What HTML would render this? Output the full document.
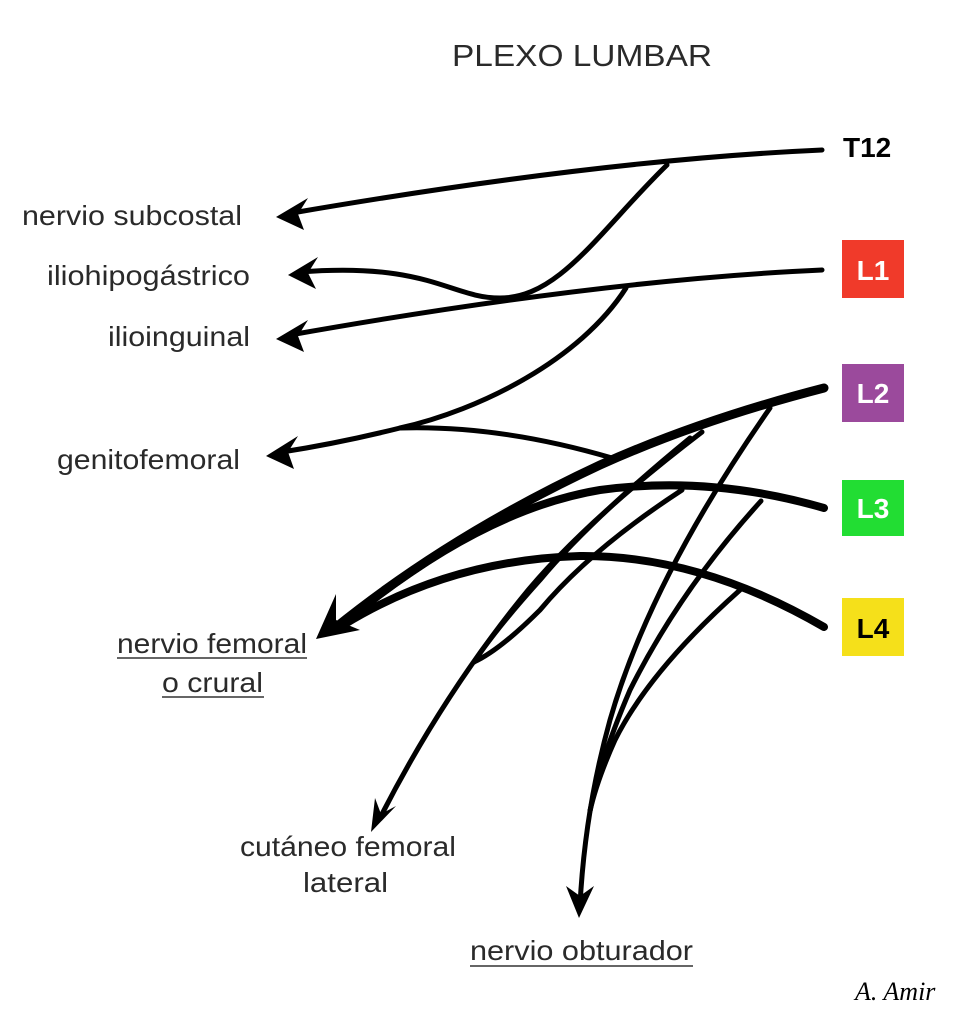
<!DOCTYPE html>
<html><head><meta charset="utf-8"><style>
html,body{margin:0;padding:0;background:#fff;}
svg{display:block;}
text{font-family:"Liberation Sans",sans-serif;fill:#2a2a2a;}
</style></head><body>
<svg width="954" height="1024" viewBox="0 0 954 1024" xmlns="http://www.w3.org/2000/svg">
<text x="452" y="66" font-size="31" textLength="260" lengthAdjust="spacingAndGlyphs">PLEXO LUMBAR</text>

<g font-size="28">
<text x="22" y="225" textLength="220" lengthAdjust="spacingAndGlyphs">nervio subcostal</text>
<text x="47" y="285" textLength="203" lengthAdjust="spacingAndGlyphs">iliohipogástrico</text>
<text x="108" y="346" textLength="142" lengthAdjust="spacingAndGlyphs">ilioinguinal</text>
<text x="57" y="469" textLength="183" lengthAdjust="spacingAndGlyphs">genitofemoral</text>
<text x="117" y="653" textLength="190" lengthAdjust="spacingAndGlyphs">nervio femoral</text>
<text x="162" y="692" textLength="101" lengthAdjust="spacingAndGlyphs">o crural</text>
<text x="240" y="856" textLength="216" lengthAdjust="spacingAndGlyphs">cutáneo femoral</text>
<text x="303" y="892" textLength="85" lengthAdjust="spacingAndGlyphs">lateral</text>
<text x="470" y="960" textLength="223" lengthAdjust="spacingAndGlyphs">nervio obturador</text>
</g>
<line x1="117" y1="658" x2="307" y2="658" stroke="#333" stroke-width="1.5"/>
<line x1="162" y1="697" x2="264" y2="697" stroke="#333" stroke-width="1.5"/>
<line x1="470" y1="966" x2="693" y2="966" stroke="#333" stroke-width="1.5"/>

<text x="843" y="157" font-size="28" font-weight="bold" style="fill:#000">T12</text>
<rect x="842" y="240" width="62" height="58" fill="#f03a2a"/>
<rect x="842" y="364" width="62" height="58" fill="#9b4a9c"/>
<rect x="842" y="480" width="62" height="56" fill="#22dd33"/>
<rect x="842" y="598" width="62" height="58" fill="#f5e01a"/>
<g font-size="28" font-weight="bold" text-anchor="middle">
<text x="873" y="280" style="fill:#fff">L1</text>
<text x="873" y="403" style="fill:#fff">L2</text>
<text x="873" y="518" style="fill:#fff">L3</text>
<text x="873" y="638" style="fill:#000">L4</text>
</g>

<g fill="none" stroke="#000" stroke-linecap="round">
<path d="M822 150 Q600 160 292 213" stroke-width="5"/>
<path d="M667 165 C600 230 560 298 500 298 C450 298 430 262 300 272" stroke-width="5"/>
<path d="M822 270 Q600 280 290 335" stroke-width="5"/>
<path d="M626 288 C580 360 480 410 400 428 Q340 443 282 452" stroke-width="5"/>
<path d="M400 428 Q500 425 612 458" stroke-width="5"/>
<path d="M824 388 Q700 420 600 465 Q450 535 335 628" stroke-width="9"/>
<path d="M824 508 Q710 475 600 490 Q480 510 345 622" stroke-width="8"/>
<path d="M824 627 Q700 555 580 556 Q450 560 345 624" stroke-width="8"/>
<path d="M702 432 Q580 525 520 600 Q440 700 380 818" stroke-width="5"/>
<path d="M690 438 Q590 520 540 580 Q495 630 474 662" stroke-width="5"/>
<path d="M682 490 Q590 550 540 610 Q500 650 474 662" stroke-width="5"/>
<path d="M770 408 Q650 580 610 720 Q585 810 580 905" stroke-width="5"/>
<path d="M761 501 Q680 590 630 690 Q600 760 590 811" stroke-width="5"/>
<path d="M740 590 Q650 670 615 740 Q597 780 590 811" stroke-width="5"/>
</g>
<g fill="#000">
<polygon points="276,217 308,198 298,214 304,230"/>
<polygon points="288,275 318,257 308,273 316,289"/>
<polygon points="276,339 308,320 298,336 304,352"/>
<polygon points="266,456 298,436 288,452 294,469"/>
<polygon points="316,639 336,594 336,620 360,630"/>
<polygon points="371,832 375,798 381,814 396,806"/>
<polygon points="579,918 566,886 580,896 594,886"/>
</g>
<text x="855" y="1000" font-size="26" font-style="italic" style="font-family:'Liberation Serif',serif;fill:#000">A. Amir</text>
</svg>
</body></html>
